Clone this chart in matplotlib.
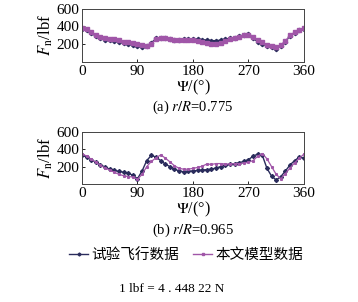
import numpy as np
import matplotlib
matplotlib.use('Agg')
from matplotlib import pyplot as plt

plt.rcParams['font.family'] = ['Liberation Serif', 'Noto Sans CJK SC']
plt.rcParams['mathtext.fontset'] = 'stix'

# azimuth grid (deg)
psi = np.arange(0, 360.1, 7.5)

# (a) r/R = 0.775
flight_a = [375, 355, 325, 290, 265, 250, 245, 240, 230, 215,
            205, 195, 180, 165, 175, 215, 265, 275, 270, 260,
            250, 250, 255, 255, 260, 255, 250, 245, 240, 240,
            245, 255, 265, 275, 290, 305, 310, 270, 225, 205,
            185, 165, 150, 175, 230, 295, 330, 355, 375]
model_a = [385, 370, 340, 305, 280, 265, 260, 255, 245, 230,
           220, 210, 200, 190, 180, 205, 255, 275, 270, 260,
           250, 245, 245, 250, 250, 240, 225, 210, 200, 200,
           215, 235, 255, 270, 285, 300, 305, 280, 245, 220,
           195, 175, 170, 190, 235, 300, 335, 360, 380]

# (b) r/R = 0.965
flight_b = [330, 310, 280, 250, 220, 195, 170, 155, 145, 135,
            125, 100, 60, 150, 270, 330, 310, 270, 230, 200,
            170, 150, 140, 145, 150, 155, 160, 165, 170, 185,
            200, 215, 225, 235, 245, 260, 280, 320, 345, 330,
            180, 90, 45, 85, 150, 220, 270, 310, 300]
model_b = [350, 320, 285, 250, 215, 185, 160, 135, 110, 95,
           85, 80, 55, 110, 200, 260, 300, 335, 300, 255,
           210, 180, 170, 170, 180, 190, 205, 230, 225, 235,
           235, 230, 230, 235, 235, 240, 250, 270, 320, 350,
           290, 200, 110, 60, 120, 185, 245, 295, 345]

c_flight = '#2a2c5c'
c_model = '#a056a8'

fig = plt.figure(figsize=(3.58, 3.02), dpi=100)
ax1 = fig.add_axes([0.229, 0.795, 0.620, 0.176])
ax2 = fig.add_axes([0.229, 0.391, 0.620, 0.172])

def style(ax):
    ax.set_xlim(0, 360)
    ax.set_ylim(0, 600)
    ax.set_xticks([0, 90, 180, 270, 360])
    ax.set_yticks([200, 400, 600])
    ax.tick_params(direction='in', length=2, width=0.6, labelsize=11, pad=2)
    for s in ax.spines.values():
        s.set_linewidth(0.7)
        s.set_color('#444444')
    ax.set_ylabel('$F_{\\mathrm{n}}$/lbf', fontsize=12, labelpad=1)
    ax.set_xlabel('$\\mathit{\\Psi}$/(°)', fontsize=11.5, labelpad=0)

l1, = ax1.plot(psi, flight_a, color=c_flight, lw=1.0, marker='D', ms=2.2)
l2, = ax1.plot(psi, model_a, color=c_model, lw=1.0, marker='s', ms=3.0)
style(ax1)

ax2.plot(psi, flight_b, color=c_flight, lw=1.0, marker='D', ms=2.0)
ax2.plot(psi, model_b, color=c_model, lw=0.9, marker='s', ms=1.2)
style(ax2)

fig.text(0.539, 0.645, '(a) $r/R$=0.775', ha='center', va='center', fontsize=10.5)
fig.text(0.539, 0.238, '(b) $r/R$=0.965', ha='center', va='center', fontsize=10.5)

leg = fig.legend([l1, l2], ['试验飞行数据', '本文模型数据'], loc='center',
                 bbox_to_anchor=(0.52, 0.155), ncol=2, frameon=False,
                 prop={'family': ['Noto Sans CJK SC'], 'size': 10.5},
                 handlelength=1.3, handletextpad=0.2, columnspacing=1.0,
                 markerscale=0.7)

fig.text(0.479, 0.043, '1 lbf = 4 . 448 22 N', ha='center', va='center', fontsize=9.5)

fig.savefig('out.png', dpi=100)
